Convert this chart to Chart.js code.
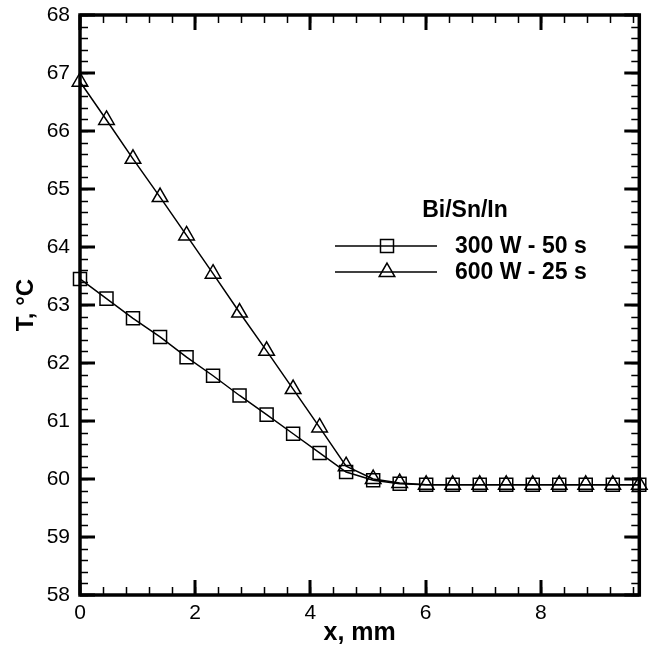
<!DOCTYPE html>
<html>
<head>
<meta charset="utf-8">
<script src="https://cdn.jsdelivr.net/npm/chart.js@4.4.1/dist/chart.umd.min.js"></script>
<style>
  html, body { margin: 0; padding: 0; background: #fff; }
  #wrap { width: 650px; height: 650px; }
</style>
</head>
<body>
<div id="wrap"><canvas id="chart" width="650" height="650"></canvas></div>
<script>
// Données
const xPositions = [0, 0.46, 0.92, 1.39, 1.85, 2.31, 2.77, 3.24, 3.70, 4.16, 4.62,
  5.09, 5.55, 6.01, 6.47, 6.94, 7.40, 7.86, 8.32, 8.78, 9.25, 9.71];
const temp300W = [63.45, 63.11, 62.77, 62.45, 62.10, 61.78, 61.44, 61.11, 60.78, 60.45, 60.12,
  59.98, 59.92, 59.90, 59.90, 59.90, 59.90, 59.90, 59.90, 59.90, 59.90, 59.90];
const temp600W = [66.85, 66.19, 65.52, 64.86, 64.20, 63.54, 62.87, 62.21, 61.55, 60.89, 60.22,
  60.00, 59.93, 59.90, 59.90, 59.90, 59.90, 59.90, 59.90, 59.90, 59.90, 59.90];
const seriesLabels = ['300 W - 50 s', '600 W - 25 s'];
const legendTitle = 'Bi/Sn/In';
const xTickValues = [0, 2, 4, 6, 8];
const yTickValues = [58, 59, 60, 61, 62, 63, 64, 65, 66, 67, 68];
const xRange = [0, 9.71];
const yRange = [58, 68];

const FONT = "'Liberation Sans', Arial, Helvetica, sans-serif";

function toPoints(ys) {
  return xPositions.map((x, i) => ({ x: x, y: ys[i] }));
}

/**
 * Cadre + graduations vers l'intérieur sur les quatre côtés
 */
const framePlugin = {
  id: 'frame',
  afterDatasetsDraw(chart) {
    const ctx = chart.ctx;
    const area = chart.chartArea;
    const xs = chart.scales.x;
    const ys = chart.scales.y;
    ctx.save();
    ctx.strokeStyle = '#000';
    ctx.lineCap = 'butt';

    // graduations mineures
    ctx.lineWidth = 1.5;
    ctx.beginPath();
    for (let v = 0; v <= xRange[1] + 1e-6; v += 0.4) {
      const px = Math.round(xs.getPixelForValue(v)) + 0.5;
      ctx.moveTo(px, area.bottom); ctx.lineTo(px, area.bottom - 8);
      ctx.moveTo(px, area.top); ctx.lineTo(px, area.top + 8);
    }
    for (let v = yRange[0]; v <= yRange[1] + 1e-6; v += 0.2) {
      const py = Math.round(ys.getPixelForValue(v)) + 0.5;
      ctx.moveTo(area.left, py); ctx.lineTo(area.left + 8, py);
      ctx.moveTo(area.right, py); ctx.lineTo(area.right - 8, py);
    }
    ctx.stroke();

    // graduations majeures
    ctx.lineWidth = 3;
    ctx.beginPath();
    xTickValues.forEach(v => {
      const px = Math.round(xs.getPixelForValue(v));
      ctx.moveTo(px, area.bottom); ctx.lineTo(px, area.bottom - 15);
      ctx.moveTo(px, area.top); ctx.lineTo(px, area.top + 15);
    });
    yTickValues.forEach(v => {
      const py = Math.round(ys.getPixelForValue(v));
      ctx.moveTo(area.left, py); ctx.lineTo(area.left + 15, py);
      ctx.moveTo(area.right, py); ctx.lineTo(area.right - 15, py);
    });
    ctx.stroke();

    // cadre
    ctx.lineWidth = 3.5;
    ctx.strokeRect(area.left, area.top, area.right - area.left, area.bottom - area.top);
    ctx.restore();
  }
};

/**
 * Légende dessinée à la main (trait + symbole)
 */
const legendPlugin = {
  id: 'manualLegend',
  afterDraw(chart) {
    const ctx = chart.ctx;
    ctx.save();
    ctx.fillStyle = '#000';
    ctx.font = 'bold 23px ' + FONT;
    ctx.textAlign = 'center';
    ctx.textBaseline = 'middle';
    ctx.fillText(legendTitle, 465, 211);

    const rows = [246, 272];
    chart.data.datasets.forEach((ds, i) => {
      const y = rows[i];
      ctx.strokeStyle = '#000';
      ctx.lineWidth = 1.5;
      ctx.beginPath();
      ctx.moveTo(335, y); ctx.lineTo(437, y);
      ctx.stroke();
      ctx.fillStyle = 'rgba(0,0,0,0)';
      Chart.helpers.drawPoint(ctx, {
        pointStyle: ds.pointStyle,
        rotation: 0,
        radius: ds.pointRadius,
        borderWidth: ds.pointBorderWidth
      }, 387, y);
      ctx.fillStyle = '#000';
      ctx.textAlign = 'left';
      ctx.fillText(seriesLabels[i], 455, y + 1);
    });
    ctx.restore();
  }
};

const ctx = document.getElementById('chart');
new Chart(ctx, {
  type: 'scatter',
  data: {
    datasets: [
      {
        label: seriesLabels[0],
        data: toPoints(temp300W),
        showLine: true,
        borderColor: '#000',
        borderWidth: 1.5,
        pointStyle: 'rect',
        pointRadius: 9.2,
        pointBorderWidth: 1.5,
        pointBorderColor: '#000',
        pointBackgroundColor: 'rgba(0,0,0,0)',
        clip: 12
      },
      {
        label: seriesLabels[1],
        data: toPoints(temp600W),
        showLine: true,
        borderColor: '#000',
        borderWidth: 1.5,
        pointStyle: 'triangle',
        pointRadius: 9,
        pointBorderWidth: 1.5,
        pointBorderColor: '#000',
        pointBackgroundColor: 'rgba(0,0,0,0)',
        clip: 12
      }
    ]
  },
  options: {
    responsive: false,
    animation: false,
    events: [],
    layout: { padding: { top: 15, right: 7, left: 0, bottom: 0 } },
    plugins: {
      legend: { display: false },
      tooltip: { enabled: false }
    },
    scales: {
      x: {
        type: 'linear',
        min: xRange[0],
        max: xRange[1],
        afterBuildTicks: s => { s.ticks = xTickValues.map(v => ({ value: v })); },
        afterFit: s => { s.height = 55; s.paddingLeft = 0; s.paddingRight = 0; },
        grid: { display: false, drawTicks: false },
        border: { display: false },
        ticks: {
          color: '#000',
          padding: 6,
          font: { family: FONT, size: 21 }
        },
        title: {
          display: true,
          text: 'x, mm',
          color: '#000',
          font: { family: FONT, size: 25, weight: 'bold' },
          padding: { top: 0, bottom: 2 }
        }
      },
      y: {
        type: 'linear',
        min: yRange[0],
        max: yRange[1],
        afterBuildTicks: s => { s.ticks = yTickValues.map(v => ({ value: v })); },
        afterFit: s => { s.width = 80; s.paddingTop = 0; s.paddingBottom = 0; },
        grid: { display: false, drawTicks: false },
        border: { display: false },
        ticks: {
          color: '#000',
          padding: 10,
          font: { family: FONT, size: 21 }
        },
        title: {
          display: true,
          text: 'T, °C',
          color: '#000',
          font: { family: FONT, size: 24, weight: 'bold' },
          padding: { top: 12, bottom: 2 }
        }
      }
    }
  },
  plugins: [framePlugin, legendPlugin]
});
</script>
</body>
</html>
